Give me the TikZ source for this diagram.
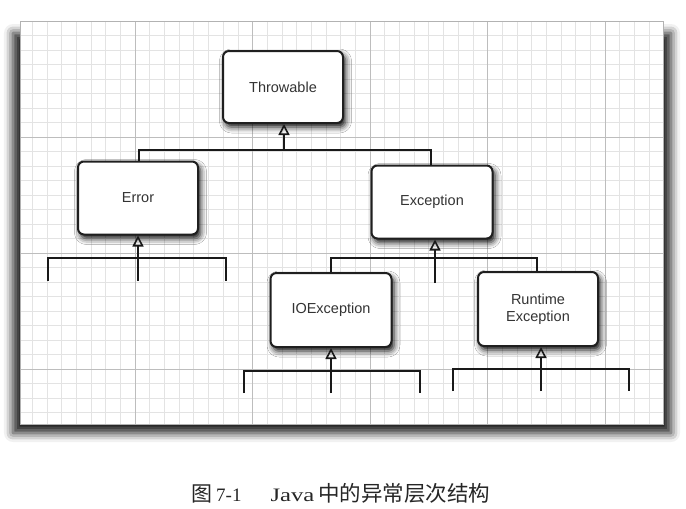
\documentclass[tikz,border=0pt]{standalone}
\usepackage{fontspec}
\setmainfont{Liberation Serif}
\newfontfamily\boxfont{Liberation Sans}
\newfontfamily\cjk{Noto Sans CJK SC}
\usetikzlibrary{arrows.meta,shadows.blur}
\definecolor{minorgrid}{gray}{0.89}
\definecolor{majorgrid}{gray}{0.74}
\begin{document}
\begin{tikzpicture}[x=1pt,y=-1pt,
  cls/.style={draw=black!88, line width=2pt, rounded corners=6pt, fill=white,
    minimum width=120pt, minimum height=73pt, inner sep=0pt,
    font=\boxfont\fontsize{14.5}{17.5}\selectfont, align=center, text=black!80,
    blur shadow={shadow xshift=2.5pt, shadow yshift=-4pt, shadow blur radius=6pt, shadow opacity=95}},
  link/.style={line width=1.8pt, draw=black!90},
  inh/.style={link, -{Triangle[open, width=11pt, length=11pt, line width=1.6pt]}},
  minorline/.style={draw=minorgrid, line width=0.6pt},
  majorline/.style={draw=majorgrid, line width=0.8pt}
]
\useasboundingbox (0,0) rectangle (686,509);

% panel shadow and panel
\path[blur shadow={shadow xshift=0pt, shadow yshift=0pt, shadow blur radius=9pt, shadow opacity=90}]
  (13,33) rectangle (671,433);
\fill[white] (20,21) rectangle (663,424);
\begin{scope}
  \clip (20,21) rectangle (663,424);
  \foreach \i in {0,...,45} \draw[minorline] ({17.5+\i*14.6875},21) -- ++(0,403);
  \foreach \j in {0,...,28} \draw[minorline] (20,{21+\j*14.5}) -- ++(643,0);
  \foreach \i in {0,...,5} \draw[majorline] ({17.5+\i*117.5},21) -- ++(0,403);
  \foreach \j in {0,...,3} \draw[majorline] (20,{21+\j*116}) -- ++(643,0);
\end{scope}
\draw[draw=gray!60, line width=0.6pt] (20,21) rectangle (663,424);

% classes
\node[cls, minimum height=72pt] (thr) at (283,87) {Throwable};
\node[cls] (err) at (138,198) {Error};
\node[cls, minimum width=121pt] (exc) at (432,202) {Exception};
\node[cls, minimum width=121pt, minimum height=74pt] (ioe) at (331,310) {IOException};
\node[cls, minimum height=74pt] (rte) at (538,309) {Runtime\\Exception};

% Throwable hierarchy
\coordinate (tj) at (284,150);
\coordinate (tl) at (139,150);
\coordinate (tr) at (431,150);
\draw[inh] (tj) -- (thr.south -| tj);
\draw[link] (err.north -| tl) -- (tl) -- (tr) -- (exc.north -| tr);

% Error subclasses
\coordinate (ea) at (138,281);
\coordinate (el) at (48,281);
\coordinate (er) at (226,281);
\draw[inh] (ea) -- (err.south -| ea);
\draw[link] (el) -- (48,258) -- (226,258) -- (er);

% Exception subclasses
\coordinate (xa) at (435,283);
\coordinate (xl) at (331,258);
\coordinate (xr) at (537,258);
\draw[inh] (xa) -- (exc.south -| xa);
\draw[link] (ioe.north -| xl) -- (xl) -- (xr) -- (rte.north -| xr);

% IOException subclasses
\coordinate (ia) at (331,393);
\coordinate (il) at (244,393);
\coordinate (ir) at (420,393);
\draw[inh] (ia) -- (ioe.south -| ia);
\draw[link] (il) -- (244,371) -- (420,371) -- (ir);

% RuntimeException subclasses
\coordinate (ra) at (541,391);
\coordinate (rl) at (453,391);
\coordinate (rr) at (629,391);
\draw[inh] (ra) -- (rte.south -| ra);
\draw[link] (rl) -- (453,369) -- (629,369) -- (rr);

% caption
\node[anchor=west, inner sep=0pt, text=black!85] (cap) at (191,493)
  {{\cjk\fontsize{21}{24}\selectfont 图}\hspace{4pt}{\fontsize{19}{22}\selectfont 7-1}\hspace{29pt}\scalebox{1.3}[1]{\fontsize{19}{22}\selectfont Java}\hspace{4pt}{\cjk\fontsize{21.5}{24}\selectfont 中的异常层次结构}};
\end{tikzpicture}
\end{document}
